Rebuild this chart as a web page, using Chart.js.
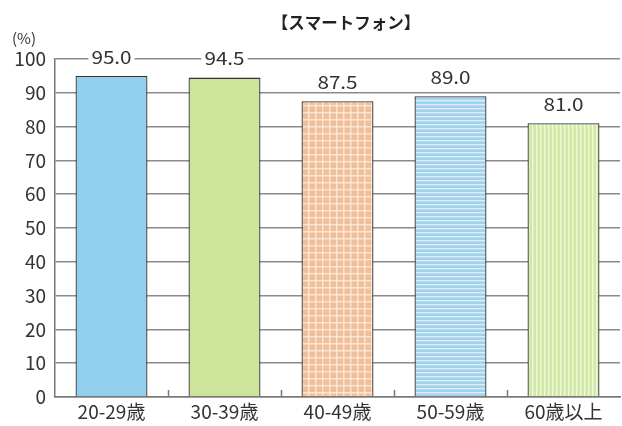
<!DOCTYPE html>
<html><head><meta charset="utf-8">
<script src="https://cdn.jsdelivr.net/npm/chart.js@4/dist/chart.umd.min.js"></script>
<style>html,body{margin:0;padding:0;background:#fff;}canvas{display:block;}</style>
</head><body>
<canvas id="c" width="622" height="426"></canvas>
<script>
const categories = ["20-29歳", "30-39歳", "40-49歳", "50-59歳", "60歳以上"];
const values = [95.0, 94.5, 87.5, 89.0, 81.0];
const valueLabels = ["95.0", "94.5", "87.5", "89.0", "81.0"];
const yTicks = [0, 10, 20, 30, 40, 50, 60, 70, 80, 90, 100];
const titleText = "【スマートフォン】";
const unitText = "(%)";

const FONT = '"Noto Sans CJK JP", "Noto Sans", sans-serif';
const ctx0 = document.getElementById('c').getContext('2d');

function mkPattern(kind) {
  const cv = document.createElement('canvas');
  const g = cv.getContext('2d');
  if (kind === 'check') {
    cv.width = 7; cv.height = 7;
    g.fillStyle = '#EFC09A'; g.fillRect(0,0,7,7);
    g.fillStyle = 'rgba(255,240,225,0.75)';
    g.fillRect(0,0,1.5,7); g.fillRect(0,0,7,1.5);
  } else if (kind === 'hstripe') {
    cv.width = 4; cv.height = 4;
    g.fillStyle = '#A3D2EF'; g.fillRect(0,0,4,4);
    g.fillStyle = 'rgba(235,245,252,0.8)'; g.fillRect(0,0,4,1.4);
  } else {
    cv.width = 4; cv.height = 4;
    g.fillStyle = '#D3E8A6'; g.fillRect(0,0,4,4);
    g.fillStyle = 'rgba(245,252,232,0.8)'; g.fillRect(0,0,1.4,4);
  }
  return ctx0.createPattern(cv, 'repeat');
}

const fills = ['#92CFEE', '#CDE59A', mkPattern('check'), mkPattern('hstripe'), mkPattern('vstripe')];

const decor = {
  id: 'decor',
  afterDatasetsDraw(chart) {
    const c = chart.ctx;
    const area = chart.chartArea;
    c.save();
    // inner ticks between categories
    c.strokeStyle = '#777'; c.lineWidth = 1.5;
    const w = (area.right - area.left) / categories.length;
    for (let i = 1; i < categories.length; i++) {
      const x = Math.round(area.left + i * w) + 0.5;
      c.beginPath(); c.moveTo(x, area.bottom); c.lineTo(x, area.bottom - 7); c.stroke();
    }
    // value labels (slightly widened glyphs like the reference)
    c.font = '18px ' + FONT;
    c.textAlign = 'center'; c.textBaseline = 'middle';
    const sx = 1.15;
    const meta = chart.getDatasetMeta(0);
    meta.data.forEach((bar, i) => {
      const y = bar.y - 20;
      const tw = c.measureText(valueLabels[i]).width * sx;
      c.fillStyle = '#fff';
      c.fillRect(bar.x - tw/2 - 3, y - 9, tw + 6, 18);
      c.save();
      c.translate(bar.x, y + 1);
      c.scale(sx, 1);
      c.fillStyle = '#333';
      c.fillText(valueLabels[i], 0, 0);
      c.restore();
    });
    // title
    c.font = 'bold 16.5px ' + FONT;
    c.fillStyle = '#222';
    c.fillText(titleText, 346, 23);
    c.font = '15px ' + FONT;
    c.fillStyle = '#333';
    c.textAlign = 'left';
    c.fillText(unitText, 12, 38);
    c.restore();
  }
};

new Chart(ctx0, {
  type: 'bar',
  data: {
    labels: categories,
    datasets: [{
      data: values,
      backgroundColor: fills,
      borderColor: '#333',
      borderWidth: 1.3,
      borderSkipped: 'bottom',
      barPercentage: 0.637,
      categoryPercentage: 1.0
    }]
  },
  options: {
    responsive: false,
    animation: false,
    devicePixelRatio: 1,
    layout: { padding: { top: 59, right: 2, left: 0, bottom: 0 } },
    plugins: { legend: { display: false }, tooltip: { enabled: false }, title: { display: false } },
    scales: {
      x: {
        offset: true,
        grid: { display: false, drawTicks: false },
        border: { display: true, color: '#777', width: 1.5 },
        ticks: { color: '#333', font: { family: FONT, size: 19 }, padding: 3 },
        afterFit(s) { s.height = 29; }
      },
      y: {
        min: 0, max: 100,
        afterBuildTicks(s) { s.ticks = yTicks.map(v => ({ value: v })); },
        grid: { color: '#8a8a8a', lineWidth: 1.5, drawTicks: false },
        border: { display: true, color: '#777', width: 1.5 },
        ticks: { color: '#333', font: { family: FONT, size: 19 }, padding: 9 },
        afterFit(s) { s.width = 55; }
      }
    }
  },
  plugins: [decor]
});
</script>
</body></html>
